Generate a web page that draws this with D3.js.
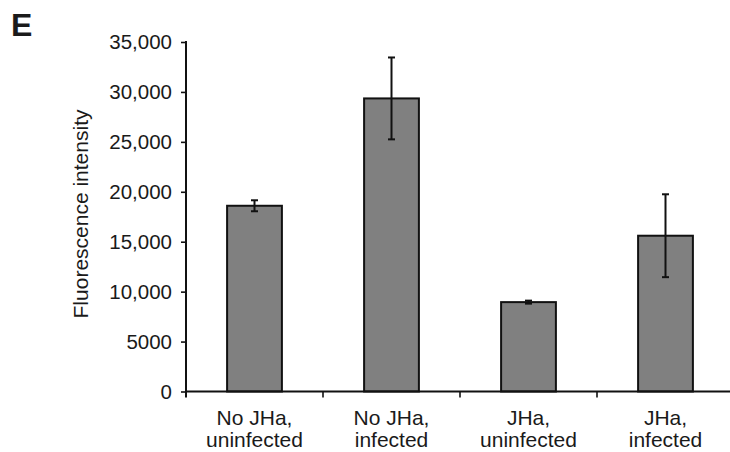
<!DOCTYPE html>
<html lang="en">
    <head>
        <meta charset="utf-8">
        <title>Fluorescence intensity</title>
        <script type="text/javascript" src="https://cdn.jsdelivr.net/npm/d3@7"></script>
        <style>
          body{margin:0;background:#fff;}
          text{font-family:"Liberation Sans",Arial,sans-serif;fill:#1a1a1a;}
        </style>
    </head>
    <body>
      <div id="chart"></div>
        <script type="text/javascript">
          // values
          var categories = [["No JHa,","uninfected"],["No JHa,","infected"],["JHa,","uninfected"],["JHa,","infected"]]
          var means = [18600, 29350, 8950, 15600]
          var errors = [550, 4100, 150, 4150]
          var yTicks = [0,5000,10000,15000,20000,25000,30000,35000]

          var width = 730, height = 452
          var plotLeft = 186, plotRight = 734, plotTop = 42, plotBottom = 391.5

          var svg = d3.select("#chart").append("svg").attr("width",width).attr("height",height)

          var ids = categories.map(function(d,i){ return i })
          var x = d3.scaleBand().domain(ids).range([plotLeft,plotRight]).paddingInner(0.6).paddingOuter(0.3)
          var y = d3.scaleLinear().domain([0,35000]).range([plotBottom,plotTop])

          function fmt(v){
            return v >= 10000 ? d3.format(",")(v) : String(v)
          }

          // bars
          svg.selectAll("rect.bar")
            .data(means)
            .enter()
            .append("rect")
            .attr("class","bar")
            .attr("x",function(d,i){ return x(i) })
            .attr("y",function(d){ return y(d) })
            .attr("width",x.bandwidth())
            .attr("height",function(d){ return y(0)-y(d) })
            .attr("fill","#808080")
            .attr("stroke","#111")
            .attr("stroke-width",2)

          // error bars
          var eb = svg.selectAll("g.err")
            .data(means)
            .enter()
            .append("g")
            .attr("class","err")
            .attr("stroke","#111")
            .attr("stroke-width",2)
          eb.append("line")
            .attr("x1",function(d,i){ return x(i)+x.bandwidth()/2 })
            .attr("x2",function(d,i){ return x(i)+x.bandwidth()/2 })
            .attr("y1",function(d,i){ return y(d+errors[i]) })
            .attr("y2",function(d,i){ return y(d-errors[i]) })
          eb.append("line")
            .attr("x1",function(d,i){ return x(i)+x.bandwidth()/2-3.5 })
            .attr("x2",function(d,i){ return x(i)+x.bandwidth()/2+3.5 })
            .attr("y1",function(d,i){ return y(d+errors[i]) })
            .attr("y2",function(d,i){ return y(d+errors[i]) })
          eb.append("line")
            .attr("x1",function(d,i){ return x(i)+x.bandwidth()/2-3.5 })
            .attr("x2",function(d,i){ return x(i)+x.bandwidth()/2+3.5 })
            .attr("y1",function(d,i){ return y(d-errors[i]) })
            .attr("y2",function(d,i){ return y(d-errors[i]) })

          // y axis
          var yAxis = svg.append("g")
            .attr("transform","translate("+plotLeft+",0)")
            .call(d3.axisLeft(y).tickValues(yTicks).tickFormat(fmt).tickSize(5).tickSizeOuter(0).tickPadding(9))
          yAxis.select(".domain").remove()
          yAxis.selectAll(".tick line").attr("stroke","#111").attr("stroke-width",1.6)
          yAxis.selectAll(".tick text").attr("font-size","20.5px").attr("fill","#1a1a1a")
            .attr("font-family","'Liberation Sans',Arial,sans-serif")
          svg.append("line")
            .attr("x1",plotLeft).attr("x2",plotLeft)
            .attr("y1",y(35000)-1).attr("y2",y(0)+6)
            .attr("stroke","#111").attr("stroke-width",2)

          // x axis
          svg.append("line")
            .attr("x1",plotLeft).attr("x2",width)
            .attr("y1",y(0)).attr("y2",y(0))
            .attr("stroke","#111").attr("stroke-width",2)
          var bounds = ids.slice(1).map(function(i){ return x(i) - x.step()*x.paddingInner()/2 })
          svg.selectAll("line.xtick")
            .data(bounds)
            .enter()
            .append("line")
            .attr("class","xtick")
            .attr("x1",function(d){ return d }).attr("x2",function(d){ return d })
            .attr("y1",y(0)).attr("y2",y(0)+6)
            .attr("stroke","#111").attr("stroke-width",1.6)

          var labels = svg.selectAll("text.cat")
            .data(categories)
            .enter()
            .append("text")
            .attr("class","cat")
            .attr("text-anchor","middle")
            .attr("font-size","21px")
            .attr("x",function(d,i){ return x(i)+x.bandwidth()/2 })
            .attr("y",425)
          labels.append("tspan").attr("x",function(d,i){ return x(i)+x.bandwidth()/2 }).text(function(d){ return d[0] })
          labels.append("tspan").attr("x",function(d,i){ return x(i)+x.bandwidth()/2 }).attr("dy",22).text(function(d){ return d[1] })

          // y title
          svg.append("text")
            .attr("transform","translate(88,214) rotate(-90)")
            .attr("text-anchor","middle")
            .attr("font-size","21px")
            .text("Fluorescence intensity")

          // panel letter
          svg.append("text")
            .attr("x",11).attr("y",36)
            .attr("font-size","32px")
            .attr("font-weight","bold")
            .text("E")
        </script>
    </body>
</html>
